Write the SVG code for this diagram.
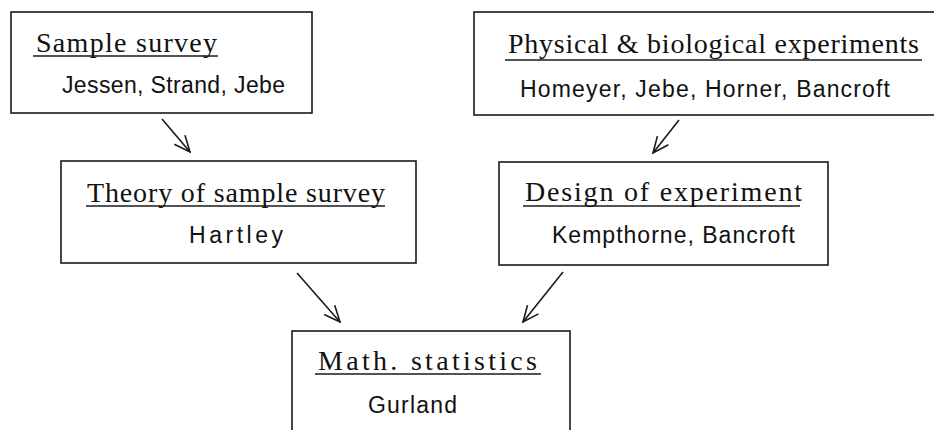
<svg xmlns="http://www.w3.org/2000/svg" width="934" height="430" viewBox="0 0 934 430">
<defs>
<style>
.box{fill:#fff;stroke:#1a1a1a;stroke-width:1.6}
.title{font-family:"Liberation Serif","DejaVu Serif",serif;font-size:28px;fill:#111}
.names{font-family:"Liberation Sans","DejaVu Sans",sans-serif;font-size:23px;fill:#111}
.ul{stroke:#1a1a1a;stroke-width:1.6}
.conn{stroke:#1a1a1a;stroke-width:1.6;fill:none;marker-end:url(#arr)}
</style>
<marker id="arr" viewBox="0 0 18 18" refX="17" refY="9" markerWidth="18" markerHeight="18" markerUnits="userSpaceOnUse" orient="auto">
<path d="M1,2 L17,9 L1,16" fill="none" stroke="#1a1a1a" stroke-width="1.6"/>
</marker>
</defs>
<rect width="934" height="430" fill="#fff"/>
<g id="sample-survey">
<rect class="box" x="11" y="12" width="301" height="101"/>
<text class="title" x="36" y="52" textLength="181" lengthAdjust="spacing">Sample survey</text>
<line class="ul" x1="33" y1="56" x2="218" y2="56"/>
<text class="names" x="62" y="93" textLength="223" lengthAdjust="spacing">Jessen, Strand, Jebe</text>
</g>
<g id="physical-biological">
<rect class="box" x="474" y="12" width="480" height="103"/>
<text class="title" x="508" y="53" textLength="411" lengthAdjust="spacing">Physical &amp; biological experiments</text>
<line class="ul" x1="505" y1="60" x2="922" y2="60"/>
<text class="names" x="520" y="97" textLength="370" lengthAdjust="spacing">Homeyer, Jebe, Horner, Bancroft</text>
</g>
<g id="theory-sample-survey">
<rect class="box" x="61" y="161" width="355" height="102"/>
<text class="title" x="87" y="202" textLength="298" lengthAdjust="spacing">Theory of sample survey</text>
<line class="ul" x1="86" y1="206" x2="385" y2="206"/>
<text class="names" x="189" y="243" textLength="94" lengthAdjust="spacing">Hartley</text>
</g>
<g id="design-experiment">
<rect class="box" x="499" y="162" width="329" height="103"/>
<text class="title" x="525" y="201" textLength="277" lengthAdjust="spacing">Design of experiment</text>
<line class="ul" x1="523" y1="206" x2="800" y2="206"/>
<text class="names" x="552" y="243" textLength="243" lengthAdjust="spacing">Kempthorne, Bancroft</text>
</g>
<g id="math-statistics">
<rect class="box" x="292" y="331" width="278" height="110"/>
<text class="title" x="318" y="370" textLength="219" lengthAdjust="spacing">Math. statistics</text>
<line class="ul" x1="315" y1="374" x2="541" y2="374"/>
<text class="names" x="368" y="413" textLength="89" lengthAdjust="spacing">Gurland</text>
</g>
<g id="connectors">
<line class="conn" x1="162" y1="119" x2="190" y2="152"/>
<line class="conn" x1="679" y1="120" x2="653" y2="153"/>
<line class="conn" x1="297" y1="273" x2="340" y2="322"/>
<line class="conn" x1="563" y1="272" x2="523" y2="322"/>
</g>
</svg>
